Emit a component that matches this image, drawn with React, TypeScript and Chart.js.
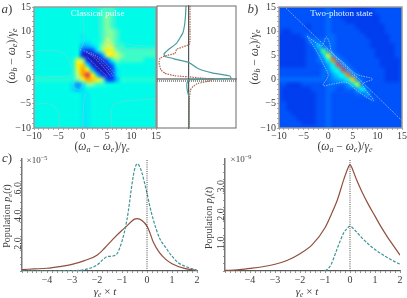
import React, { useEffect, useRef } from "react";
import { Chart, registerables } from "chart.js";

Chart.register(...registerables);

const SERIF = "'Liberation Serif', 'DejaVu Serif', serif";
const TEAL = "#3f9494";
const BROWN = "#8f4f3c";
const TEXT = "#3c3c3c";

// ---- Map grids: rows y = 15 … -10, columns x = -10 … 15 ----
const classicalMap: number[][] = [
  [0,0,0,0,0,0,0,0,0,0, 0,0,0,0,1,1,1,0,0,0,0,0,0,0,0,0],
  [0,0,0,0,0,0,0,0,0,0, 0,0,0,0,1,1,1,0,0,0,0,0,0,0,0,0],
  [0,0,0,0,0,0,0,0,0,0, 0,0,0,0,1,2,1,0,0,0,0,0,0,0,0,0],
  [0,0,0,0,0,0,0,0,0,0, 0,0,0,0,1,2,1,0,0,0,0,0,0,0,0,0],
  [0,0,0,0,0,0,0,0,0,0, 0,0,0,0,1,2,1,0,0,0,0,0,0,0,0,0],
  [0,0,0,0,0,0,0,0,0,0, 0,0,0,0,1,2,2,1,0,0,0,0,0,0,0,0],
  [0,0,0,0,0,0,0,0,0,0, -0.5,0,0,0,1,2,2,1,0,0,0,0,0,0,0,0],
  [0,0,0,0,0,0,0,0,0,0, -0.5,-0.5,0,0,1,3,2,1,0,0,0,0,0,0,0,0],
  [0,0,0,0,0,0,0,0,0,0, -2,-2,-1,0,2,3,3,1,1,0,0,0,0,0,0,0],
  [0,0,0,0,0,0,0,0,0,0, -5,-6,-5,-1,2,5,4,2,1,1,1,1,1,1,1,1],
  [0,0,0,0,0,0,0,0,0,0, -8,-10,-9,-8,-3,3,5,3,2,1,1,1,1,1,1,1],
  [0,0,0,0,0,0,0,0,0.5,4, 2,-7,-10,-10,-7,-4,0,2,1,1,1,1,1,0,0,0],
  [0,0,0,0,0,0,0,0,0.5,5, 6,-1,-8,-10,-10,-8,-4,0,0,0,0,0,0,0,0,0],
  [0,0,0,0,0,0,0,0,0.5,4, 7,5,-2,-9,-10,-9,-6,-1,0,0,0,0,0,0,0,0],
  [0,0,0,0,0,0,0,0,0.5,3, 7,10,5,-2,-7,-9,-6,-1,0,0,0,0,0,0,0,0],
  [0.5,0.5,0.5,0.5,0.5,0.5,0.5,0.5,0.5,2, 4,7,6,5,2,-5,-6,-2,0.5,0.5,0.5,0.5,0.5,0.5,0.5,0.5],
  [0,0,0,0,0,0,0,0,-1,-3, -1,2,2,1,1,0,0,0,0,0,0,0,0,0,0,0],
  [0,0,0,0,0,0,0,0,-1,-2, -1,0,0,0,0,0,0,0,0,0,0,0,0,0,0,0],
  [0,0,0,0,0,0,0,0,0,0, -0.5,-0.5,0,0,0,0,0,0,0,0,0,0,0,0,0,0],
  [0,0,0,0,0,0,0,0,0,0, -0.5,-0.5,0,0,0,0,0,0,0,0,0,0,0,0,0,0],
  [0,0,0,0,0,0,0,0,0,0, -0.5,-0.5,0,0,0,0,0,0,0,0,0,0,0,0,0,0],
  [0,0,0,0,0,0,0,0,0,0, -0.5,-0.5,0,0,0,0,0,0,0,0,0,0,0,0,0,0],
  [0,0,0,0,0,0,0,0,0,0, -0.5,-0.5,0,0,0,0,0,0,0,0,0,0,0,0,0,0],
  [0,0,0,0,0,0,0,0,0,0, -0.5,-0.5,0,0,0,0,0,0,0,0,0,0,0,0,0,0],
  [0,0,0,0,0,0,0,0,0,0, -0.5,-0.5,0,0,0,0,0,0,0,0,0,0,0,0,0,0],
  [0,0,0,0,0,0,0,0,0,0, -0.5,-0.5,0,0,0,0,0,0,0,0,0,0,0,0,0,0],
];

const twoPhotonMap: number[][] = [
  [1,1,1,1,1,1,1,1,1,1, 1.5,1,1,1,1,.5,.5,.5,.5,1,1,1,1,1,1,1],
  [1,1,1,1,1,1,1,1,1,1, 1.5,1,1,1,.5,.5,.5,.5,.5,.5,1,1,1,1,1,1],
  [1,1,1,1,1,1,1,1,1,1, 1.5,1,1,.5,.5,.5,.5,.5,.5,.5,.5,1,1,1,1,1],
  [1,1,1,1,1,1,1,1,1,1, 1.5,1,1,1,.5,.5,.5,.5,.5,.5,.5,1,1,1,1,1],
  [1,1,1,1,1,1,.5,1,1,1, 1.5,1,1,1,1,1,.5,.5,.5,.5,.5,.5,1,1,1,1],
  [1,.5,.5,1,1,1,1,1,1,1, 1.5,1,1,1,1,1,1,.5,.5,.5,.5,.5,1,1,1,1],
  [.5,.5,.5,.5,.5,1,1.5,1,1,1, 1.5,1.5,1,1,1,1,1,1,.5,.5,.5,.5,.5,1,1,1],
  [.5,.5,.5,.5,.5,.5,1.5,2,1.5,1.5, 1.5,1.5,1,1,1,1,1,1,1,.5,.5,.5,.5,1,1,1],
  [.5,.5,.5,.5,.5,.5,1,1.5,3,1.5, 1.5,1.5,1,1,1,1,1,1,1,.5,.5,.5,.5,.5,1,1],
  [.5,.5,.5,.5,.5,.5,1,1,2,5, 2,1.5,1,1,1,1,1,1,1,1,.5,.5,.5,.5,1,1],
  [.5,.5,.5,.5,.5,.5,1,1,1.5,3, 6.5,2,1.5,1,1,1,1,1,1,1,.5,.5,.5,.5,1,1],
  [.5,.5,.5,.5,.5,.5,1,1,1.5,2, 4,8.5,2,1.5,1,1,1,1,1,1,1,.5,.5,.5,.5,1],
  [.5,.5,.5,.5,.5,.5,1,1,1,1.5, 2.5,4,9.5,2,1.5,1,1,1,1,1,1,.5,.5,.5,.5,1],
  [1,1,1,1,1,1,1,1,1,1.5, 2,3.5,4,9.5,2,1.5,1,1,1,1,1,1,.5,.5,.5,1],
  [1,1,1,1,1,1,1,1,1,1.5, 1.5,2.5,3.5,4,8.5,2,1.5,1,1,1,1,1,.5,.5,.5,1],
  [1.5,1.5,1.5,1.5,1.5,1.5,1.5,1.5,1.5,1.5, 1.5,2,2.5,3,4,7.5,2,1.5,1,1,1,1,.5,.5,.5,1],
  [1,1,.5,.5,.5,1,1,1,1,1, 1.5,1.5,1.5,1.5,2,3.5,6,1.5,1,1,1,1,1,1,1,1],
  [1,.5,.5,.5,.5,.5,.5,1,1,1, 1.5,1.5,1,1,1.5,1.5,2.5,4,1.5,1,1,1,1,1,1,1],
  [1,.5,.5,.5,.5,.5,.5,.5,1,1, 1.5,1,1,1,1,1,1.5,1.5,2.5,1,1,1,1,1,1,1],
  [1,.5,.5,.5,.5,.5,.5,.5,1,1, 1.5,1,1,1,1,1,1,1,1,1.5,1,1,1,1,1,1],
  [1,1,.5,.5,.5,.5,.5,.5,1,1, 1.5,1,1,1,1,1,1,1,1,1,1,1,1,1,1,1],
  [1,1,.5,.5,.5,.5,.5,.5,1,1, 1.5,1,1,1,1,1,1,1,1,1,1,1,1,1,1,1],
  [1,1,1,.5,.5,.5,.5,.5,1,1, 1.5,1,1,1,1,1,1,1,1,1,1,1,1,1,1,1],
  [1,1,1,1,.5,.5,.5,.5,1,1, 1.5,1,1,1,1,1,1,1,1,1,1,1,1,1,1,1],
  [1,1,1,1,1,.5,.5,.5,1,1, 1.5,1,1,1,1,1,1,1,1,1,1,1,1,1,1,1],
  [1,1,1,1,1,1,1,1,1,1, 1.5,1,1,1,1,1,1,1,1,1,1,1,1,1,1,1],
];

const classicalStops: [number, number[]][] = [
  [-10, [26, 30, 185]], [-7, [15, 45, 235]], [-4, [0, 110, 255]], [-1, [0, 222, 255]],
  [0, [0, 252, 232]], [1, [60, 252, 200]], [2, [130, 252, 160]], [3, [195, 252, 110]], [5, [255, 238, 10]],
  [7, [255, 165, 0]], [9, [240, 75, 50]], [10, [215, 60, 95]],
];
const twoPhotonStops: [number, number[]][] = [
  [0.5, [0, 62, 240]], [1, [0, 82, 250]], [1.5, [0, 105, 255]], [2, [0, 140, 255]],
  [3, [0, 200, 255]], [4, [0, 250, 240]], [5, [60, 255, 140]], [6, [170, 255, 70]],
  [7, [255, 240, 10]], [8, [255, 165, 0]], [9, [240, 80, 60]], [10, [210, 70, 110]],
];

// ---- Contour lines in the maps ----
const contourLowerLeft = [{x:-10,y:-5},{x:-6.5,y:-5.1},{x:-5.4,y:-6},{x:-4.9,y:-7.5},{x:-4.8,y:-10}];
const contourLowerMid = [{x:0,y:-10},{x:0.2,y:-5},{x:0.6,y:-3}];
const contourLowerRight = [{x:6,y:-10},{x:5.8,y:-6.5},{x:6.6,y:-5},{x:9,y:-4.4},{x:15,y:-4}];
const contourUpperLeft = [{x:-10,y:6},{x:-5.5,y:5.9},{x:-3.5,y:5},{x:-2.5,y:3},{x:-2,y:1},{x:-4,y:0.7},{x:-10,y:0.5}];
const contourUpperRight = [{x:3,y:15},{x:3.5,y:10},{x:4.8,y:8},{x:8,y:6.4},{x:15,y:6.2}];
const contourUpperBand = [{x:6.5,y:15},{x:7,y:10},{x:8.5,y:7.5},{x:15,y:7}];
const contourBlob = [{x:-1.8,y:-1.8},{x:-2,y:-0.6},{x:-1,y:0.1},{x:0,y:-0.6},{x:-0.5,y:-2},{x:-1.8,y:-1.8}];
const contourVerticalTop = [{x:0,y:15},{x:0.2,y:8},{x:-0.5,y:6}];
const blobStripeA = [{x:0.2,y:6},{x:2,y:4.8},{x:4,y:2.8},{x:5.8,y:0.6}];
const blobStripeB = [{x:0.8,y:5.8},{x:3,y:4.4},{x:5,y:2.4},{x:6.2,y:0.8}];
const blobStripeC = [{x:1,y:4.6},{x:2.2,y:3.4},{x:3.6,y:2},{x:5,y:0.6}];
const blobStripeD = [{x:1.6,y:5.6},{x:3.8,y:4.2},{x:5.4,y:2.6},{x:6.4,y:1.4}];
const diagonalLine = [{x:-8.6,y:14.8},{x:15,y:-8.5}];
const starOutline = [
  {x:-4.3,y:9},{x:-2.2,y:7.4},{x:-1.2,y:7},{x:-0.4,y:8.8},{x:0.3,y:7.5},{x:0.6,y:6},{x:1.5,y:4.8},{x:3,y:3.6},{x:4.6,y:2},
  {x:6,y:1},{x:9,y:0.1},{x:7,y:-1},{x:9.2,y:-4.3},{x:6,y:-2.4},{x:3.8,y:-0.6},{x:1,y:-0.9},{x:-1,y:-1.2},
  {x:0,y:0.9},{x:-1,y:3.2},{x:-2.2,y:5.6},{x:-4.3,y:9},
];
const ridgeStripeA = [{x:-0.6,y:6.4},{x:1.4,y:4.4},{x:3.4,y:2.4},{x:5.4,y:0.4},{x:6.4,y:-0.6}];
const ridgeStripeB = [{x:-0.2,y:6.4},{x:1.8,y:4.4},{x:3.8,y:2.4},{x:5.8,y:0.4}];

// ---- Side profile ----
const sideTeal = [
  {x:-0.3,y:15},{x:-0.35,y:13},{x:-0.45,y:11},{x:-0.63,y:9.4},{x:-1.23,y:7.4},{x:-2.1,y:6},{x:-2.5,y:5.2},{x:-2.4,y:4.65},
  {x:-1.6,y:4.25},{x:-1.4,y:4.1},{x:0,y:3.4},{x:0.9,y:2.2},{x:2.3,y:1.3},{x:4.1,y:0.65},{x:4.2,y:0.2},{x:2,y:0.05},{x:0,y:-0.1},
  {x:-0.2,y:-0.8},{x:-0.2,y:-1.9},{x:-0.1,y:-2.9},{x:0,y:-3.6},{x:0,y:-10},
];
const sideBrown = [
  {x:0.1,y:15},{x:0.1,y:10},{x:0.1,y:8},{x:0.03,y:7.1},{x:-1.23,y:6.15},{x:-1.4,y:5.3},{x:-2.4,y:4.75},{x:-2.9,y:4.3},{x:-3,y:3.3},
  {x:-2.8,y:1.9},{x:-2.4,y:1.2},{x:-1.4,y:0.7},{x:-0.1,y:0.5},{x:0.9,y:0.3},{x:2.4,y:0},{x:2.2,y:-0.3},{x:0.9,y:-0.85},
  {x:0.4,y:-1.5},{x:0.15,y:-2.2},{x:0.05,y:-3.6},{x:0.03,y:-6},{x:0.02,y:-10},
];

// ---- Population curves ----
const excitedSolid = [
  {x:-5,y:0.1},{x:-4.5,y:0.15},{x:-4,y:0.2},{x:-3.5,y:0.32},{x:-3,y:0.48},{x:-2.5,y:0.75},{x:-2,y:1.15},{x:-1.7,y:1.65},{x:-1.37,y:2.29},
  {x:-1,y:2.95},{x:-0.86,y:3.18},{x:-0.5,y:3.76},{x:-0.39,y:3.8},{x:-0.2,y:3.66},{x:0,y:3.25},{x:0.1,y:2.85},{x:0.25,y:2.1},
  {x:0.5,y:1.33},{x:0.75,y:0.84},{x:1,y:0.53},{x:1.5,y:0.19},{x:2,y:0.03},
];
const excitedDashed = [
  {x:-5,y:0},{x:-4,y:0},{x:-3,y:0.02},{x:-2.5,y:0.1},{x:-2,y:0.43},{x:-1.75,y:0.84},{x:-1.6,y:1.04},{x:-1.4,y:1.08},{x:-1.2,y:1.25},
  {x:-1,y:2.17},{x:-0.86,y:3.18},{x:-0.75,y:4.3},{x:-0.6,y:6.3},{x:-0.5,y:7.35},{x:-0.39,y:7.76},{x:-0.3,y:7.6},{x:-0.2,y:7.1},
  {x:-0.1,y:6.4},{x:0,y:5.66},{x:0.1,y:4.8},{x:0.25,y:3.73},{x:0.5,y:2.4},{x:0.75,y:1.69},{x:1,y:1.08},{x:1.25,y:0.6},{x:1.5,y:0.36},{x:2,y:0.05},
];
const finalSolid = [
  {x:-5,y:0.02},{x:-4.5,y:0.04},{x:-4,y:0.09},{x:-3.5,y:0.15},{x:-3,y:0.24},{x:-2.5,y:0.38},{x:-2,y:0.61},{x:-1.5,y:0.94},{x:-1,y:1.53},
  {x:-0.75,y:2},{x:-0.5,y:2.53},{x:-0.25,y:3.23},{x:-0.1,y:3.6},{x:0,y:3.76},{x:0.1,y:3.6},{x:0.25,y:3.25},{x:0.5,y:2.76},{x:0.75,y:2.33},
  {x:1,y:1.94},{x:1.25,y:1.55},{x:1.5,y:1.2},{x:1.75,y:0.88},{x:2,y:0.56},
];
const finalDashed = [
  {x:-1,y:0.01},{x:-0.9,y:0.06},{x:-0.75,y:0.24},{x:-0.5,y:0.82},{x:-0.25,y:1.35},{x:-0.1,y:1.52},{x:0,y:1.59},{x:0.1,y:1.53},{x:0.25,y:1.39},
  {x:0.5,y:1.15},{x:0.75,y:0.94},{x:1,y:0.76},{x:1.25,y:0.61},{x:1.5,y:0.47},{x:1.75,y:0.35},{x:2,y:0.24},
];

// ---- Labels ----
type Run = { t: string; i?: boolean; sub?: boolean; sup?: boolean };
type Label = { runs: Run[]; x: number; y: number; size: number; color?: string; rot?: boolean };
const omegaAxisX: Run[] = [{t:"("},{t:"ω",i:true},{t:"a",i:true,sub:true},{t:" − "},{t:"ω",i:true},{t:"e",i:true,sub:true},{t:")/"},{t:"γ",i:true},{t:"e",i:true,sub:true}];
const omegaAxisY: Run[] = [{t:"("},{t:"ω",i:true},{t:"b",i:true,sub:true},{t:" − "},{t:"ω",i:true},{t:"e",i:true,sub:true},{t:")/"},{t:"γ",i:true},{t:"e",i:true,sub:true}];
const timeAxis: Run[] = [{t:"γ",i:true},{t:"e",i:true,sub:true},{t:" × "},{t:"t",i:true}];

const labelsA: Label[] = [
  { runs: [{t:"a",i:true},{t:")"}], x: 7, y: 9, size: 13 },
  { runs: [{t:"Classical pulse"}], x: 97.5, y: 13, size: 9, color: "#eefcff" },
  { runs: omegaAxisX, x: 102, y: 146, size: 11.5 },
  { runs: omegaAxisY, x: 11, y: 56, size: 11.5, rot: true },
];
const labelsB: Label[] = [
  { runs: [{t:"b",i:true},{t:")"}], x: 253, y: 9, size: 13 },
  { runs: [{t:"Two-photon state"}], x: 341.5, y: 13, size: 9, color: "#dff2ff" },
  { runs: omegaAxisX, x: 345, y: 146, size: 11.5 },
  { runs: omegaAxisY, x: 254, y: 57, size: 11.5, rot: true },
];
const labelsC: Label[] = [
  { runs: [{t:"c",i:true},{t:")"}], x: 7, y: 158, size: 13 },
  { runs: [{t:"×10"},{t:"−5",sup:true}], x: 37, y: 160, size: 9 },
  { runs: timeAxis, x: 105, y: 291, size: 11 },
  { runs: [{t:"Population "},{t:"p",i:true},{t:"e",i:true,sub:true},{t:"("},{t:"t",i:true},{t:")"}], x: 7, y: 216, size: 10, rot: true },
];
const labelsD: Label[] = [
  { runs: [{t:"×10"},{t:"−9",sup:true}], x: 241, y: 159, size: 9 },
  { runs: timeAxis, x: 307, y: 291, size: 11 },
  { runs: [{t:"Population "},{t:"p",i:true},{t:"f",i:true,sub:true},{t:"("},{t:"t",i:true},{t:")"}], x: 209, y: 218, size: 10, rot: true },
];

// ---- Plugins ----
function runFont(r: Run, size: number) {
  const s = r.sub || r.sup ? size * 0.7 : size;
  return `${r.i ? "italic " : ""}${s}px ${SERIF}`;
}
function richText(labels: Label[]) {
  return {
    id: "richText",
    afterDraw(chart: any) {
      const ctx = chart.ctx;
      for (const l of labels) {
        ctx.save();
        ctx.translate(l.x, l.y);
        if (l.rot) ctx.rotate(-Math.PI / 2);
        ctx.fillStyle = l.color || TEXT;
        ctx.textBaseline = "alphabetic";
        ctx.textAlign = "left";
        let w = 0;
        for (const r of l.runs) { ctx.font = runFont(r, l.size); w += ctx.measureText(r.t).width; }
        let cx = -w / 2;
        const base = l.size * 0.33;
        for (const r of l.runs) {
          ctx.font = runFont(r, l.size);
          const dy = r.sub ? l.size * 0.2 : r.sup ? -l.size * 0.38 : 0;
          ctx.fillText(r.t, cx, base + dy);
          cx += ctx.measureText(r.t).width;
        }
        ctx.restore();
      }
    },
  };
}
function colorFor(v: number, stops: [number, number[]][]) {
  for (let i = 1; i < stops.length; i++) {
    if (v <= stops[i][0]) {
      const [a, ca] = stops[i - 1];
      const [b, cb] = stops[i];
      const f = Math.max(0, (v - a) / (b - a));
      return ca.map((c, k) => Math.round(c + (cb[k] - c) * f));
    }
  }
  return stops[stops.length - 1][1];
}
function heatPlugin(grid: number[][], stops: [number, number[]][]) {
  return {
    id: "heat",
    beforeDatasetsDraw(chart: any) {
      const { ctx, chartArea: a, scales } = chart;
      const n = grid.length;
      const off = document.createElement("canvas");
      off.width = n; off.height = n;
      const oc = off.getContext("2d")!;
      const img = oc.createImageData(n, n);
      grid.forEach((row, j) => row.forEach((v, i) => {
        const c = colorFor(v, stops);
        const p = (j * n + i) * 4;
        img.data[p] = c[0]; img.data[p + 1] = c[1]; img.data[p + 2] = c[2]; img.data[p + 3] = 255;
      }));
      oc.putImageData(img, 0, 0);
      const x0 = scales.x.getPixelForValue(-10.5), x1 = scales.x.getPixelForValue(15.5);
      const y0 = scales.y.getPixelForValue(15.5), y1 = scales.y.getPixelForValue(-10.5);
      ctx.save();
      ctx.beginPath(); ctx.rect(a.left, a.top, a.right - a.left, a.bottom - a.top); ctx.clip();
      ctx.imageSmoothingEnabled = true;
      ctx.imageSmoothingQuality = "high";
      ctx.drawImage(off, x0, y0, x1 - x0, y1 - y0);
      ctx.restore();
    },
    afterDatasetsDraw(chart: any) {
      const { ctx, chartArea: a } = chart;
      ctx.save();
      ctx.strokeStyle = "#9a9a9a";
      ctx.lineWidth = 1.5;
      ctx.strokeRect(a.left, a.top, a.right - a.left, a.bottom - a.top);
      ctx.restore();
    },
  };
}
const framePlugin = {
  id: "frame",
  afterDraw(chart: any) {
    const { ctx, chartArea: a } = chart;
    ctx.save();
    ctx.strokeStyle = "#6a6a6a";
    ctx.lineWidth = 1;
    ctx.strokeRect(a.left, a.top, a.right - a.left, a.bottom - a.top);
    ctx.restore();
  },
};

// ---- Option builders ----
const minus = (v: number) => (v < 0 ? "−" + Math.abs(v) : String(v));
function pinned(left: number, top: number, right: number, bottom: number, yw: number, xh: number) {
  return {
    padding: { left: left - yw, top, right: 407 - right, bottom: 298 - bottom - xh },
  };
}
function base(layout: any, scales: any) {
  return {
    responsive: false,
    animation: false as const,
    layout,
    events: [],
    plugins: { legend: { display: false }, tooltip: { enabled: false }, title: { display: false } },
    elements: { point: { radius: 0 } },
    scales,
  };
}
function mapScales(yLabels: boolean) {
  const tickFont = { family: SERIF, size: 10 };
  return {
    x: {
      type: "linear", min: -10, max: 15,
      afterBuildTicks(s: any) { s.ticks = [-10,-9,-8,-7,-6,-5,-4,-3,-2,-1,0,1,2,3,4,5,6,7,8,9,10,11,12,13,14,15].map((v) => ({ value: v })); },
      afterFit(s: any) { s.height = 16; },
      grid: { drawOnChartArea: false, tickLength: 2, color: "#888", lineWidth: 0.7 },
      border: { display: false },
      ticks: { autoSkip: false, maxRotation: 0, padding: 0, color: TEXT, font: tickFont, callback: (v: any) => (v % 5 === 0 ? minus(v) : "") },
    },
    y: {
      type: "linear", min: -10, max: 15,
      afterBuildTicks(s: any) { s.ticks = [-10,-9,-8,-7,-6,-5,-4,-3,-2,-1,0,1,2,3,4,5,6,7,8,9,10,11,12,13,14,15].map((v) => ({ value: v })); },
      afterFit(s: any) { s.width = 26; },
      grid: { drawOnChartArea: false, tickLength: 2, color: "#888", lineWidth: 0.7 },
      border: { display: false },
      ticks: { autoSkip: false, padding: 1, color: TEXT, font: tickFont, callback: (v: any) => (v % 5 === 0 ? minus(v) : "") },
    },
  };
}
function curveScales(ymax: number, yStep: number, labelled: number[]) {
  const tickFont = { family: SERIF, size: 10 };
  return {
    x: {
      type: "linear", min: -5, max: 2,
      afterBuildTicks(s: any) {
        const t = [];
        for (let k = -25; k <= 10; k++) t.push({ value: k / 5 });
        s.ticks = t;
      },
      afterFit(s: any) { s.height = 18; },
      grid: { drawOnChartArea: false, tickLength: 2, color: "#666", lineWidth: 0.7 },
      border: { color: "#555", width: 1.2 },
      ticks: { autoSkip: false, maxRotation: 0, padding: 1, color: TEXT, font: tickFont, callback: (v: any) => (Number.isInteger(v) && v > -5 ? minus(v) : "") },
    },
    y: {
      type: "linear", min: 0, max: ymax,
      afterBuildTicks(s: any) {
        const t = [];
        for (let v = 0; v <= ymax; v += yStep) t.push({ value: v });
        s.ticks = t;
      },
      afterFit(s: any) { s.width = 16; },
      grid: { drawOnChartArea: false, tickLength: 2, color: "#666", lineWidth: 0.7 },
      border: { color: "#777", width: 1.5 },
      ticks: {
        autoSkip: false, minRotation: 90, maxRotation: 90, crossAlign: "center", padding: -5, color: TEXT, font: tickFont,
        callback: (v: any) => (labelled.includes(v) ? v.toFixed(1) : ""),
      },
    },
  };
}
const contourStyle = (data: any[], color = "rgba(190,190,190,0.7)") => ({
  data, showLine: true, borderColor: color, borderWidth: 0.8, borderDash: [1.5, 1], tension: 0.35, pointRadius: 0,
});
const curve = (data: any[], color: string, dash: number[], smooth = true) => ({
  data, showLine: true, borderColor: color, borderWidth: 1.2, borderDash: dash,
  ...(smooth ? { cubicInterpolationMode: "monotone" } : { tension: 0.1 }), pointRadius: 0,
});
const zeroLine = (top: number) => ({
  data: [{ x: 0, y: 0 }, { x: 0, y: top }], showLine: true, borderColor: "#333", borderWidth: 0.9, borderDash: [1, 1.2], pointRadius: 0,
});

function buildConfigs() {
  const stripe = "rgba(225,225,235,0.55)";
  return [
    {
      type: "scatter",
      data: { datasets: [
        ...[contourLowerLeft, contourLowerMid, contourLowerRight, contourUpperLeft, contourUpperRight, contourUpperBand, contourBlob, contourVerticalTop].map((d) => contourStyle(d)),
        ...[blobStripeA, blobStripeB, blobStripeC, blobStripeD].map((d) => contourStyle(d, stripe)),
      ] },
      options: base(pinned(34, 6, 156, 128, 26, 16), mapScales(true)),
      plugins: [heatPlugin(classicalMap, classicalStops), richText(labelsA)],
    },
    {
      type: "scatter",
      data: { datasets: [curve(sideBrown, "#a9694f", [1.5, 1], false), curve(sideTeal, "#4a9c9c", [], false)] },
      options: base({ padding: { left: 157, top: 6, right: 407 - 236, bottom: 298 - 128 } }, {
        x: {
          type: "linear", min: -3.2, max: 4.7, position: { y: 0 },
          afterBuildTicks(s: any) {
            const t = [];
            for (let k = -16; k <= 23; k++) t.push({ value: k / 5 });
            s.ticks = t;
          },
          grid: { drawOnChartArea: false, tickLength: 2, color: "#666", lineWidth: 0.7 },
          border: { color: "#9a9a9a", width: 2 },
          ticks: { display: false, autoSkip: false },
        },
        y: {
          type: "linear", min: -10, max: 15, position: { x: 0 },
          grid: { display: false },
          border: { color: "#555", width: 1.2 },
          ticks: { display: false },
        },
      }),
      plugins: [framePlugin],
    },
    {
      type: "scatter",
      data: { datasets: [
        contourStyle(starOutline, "rgba(205,205,225,0.85)"),
        { ...contourStyle(diagonalLine, "rgba(190,205,235,0.8)"), tension: 0 },
        contourStyle(ridgeStripeA, "rgba(215,205,215,0.6)"),
        contourStyle(ridgeStripeB, "rgba(215,215,225,0.55)"),
      ] },
      options: base(pinned(279, 6, 402, 128, 26, 16), mapScales(true)),
      plugins: [heatPlugin(twoPhotonMap, twoPhotonStops), richText(labelsB)],
    },
    {
      type: "scatter",
      data: { datasets: [zeroLine(8.12), curve(excitedDashed, TEAL, [3, 1.5]), curve(excitedSolid, BROWN, [])] },
      options: base(pinned(22, 159, 197, 271, 16, 18), curveScales(8.12, 0.5, [2, 4, 6])),
      plugins: [richText(labelsC)],
    },
    {
      type: "scatter",
      data: { datasets: [zeroLine(3.96), curve(finalDashed, TEAL, [3, 1.5]), curve(finalSolid, BROWN, [])] },
      options: base(pinned(225, 159, 400, 271, 16, 18), curveScales(3.96, 0.25, [1, 2, 3])),
      plugins: [richText(labelsD)],
    },
  ];
}

export default function App() {
  const wrap = useRef<HTMLDivElement>(null);
  useEffect(() => {
    const host = wrap.current!;
    const charts: Chart[] = [];
    for (const cfg of buildConfigs()) {
      const c = document.createElement("canvas");
      c.width = 407; c.height = 298;
      c.style.cssText = "position:absolute;left:0;top:0;width:407px;height:298px;display:block";
      host.appendChild(c);
      charts.push(new Chart(c, cfg as any));
    }
    return () => {
      charts.forEach((c) => c.destroy());
      host.innerHTML = "";
    };
  }, []);
  return <div ref={wrap} style={{ position: "absolute", left: 0, top: 0, width: 407, height: 298, background: "#fff", overflow: "hidden" }} />;
}
